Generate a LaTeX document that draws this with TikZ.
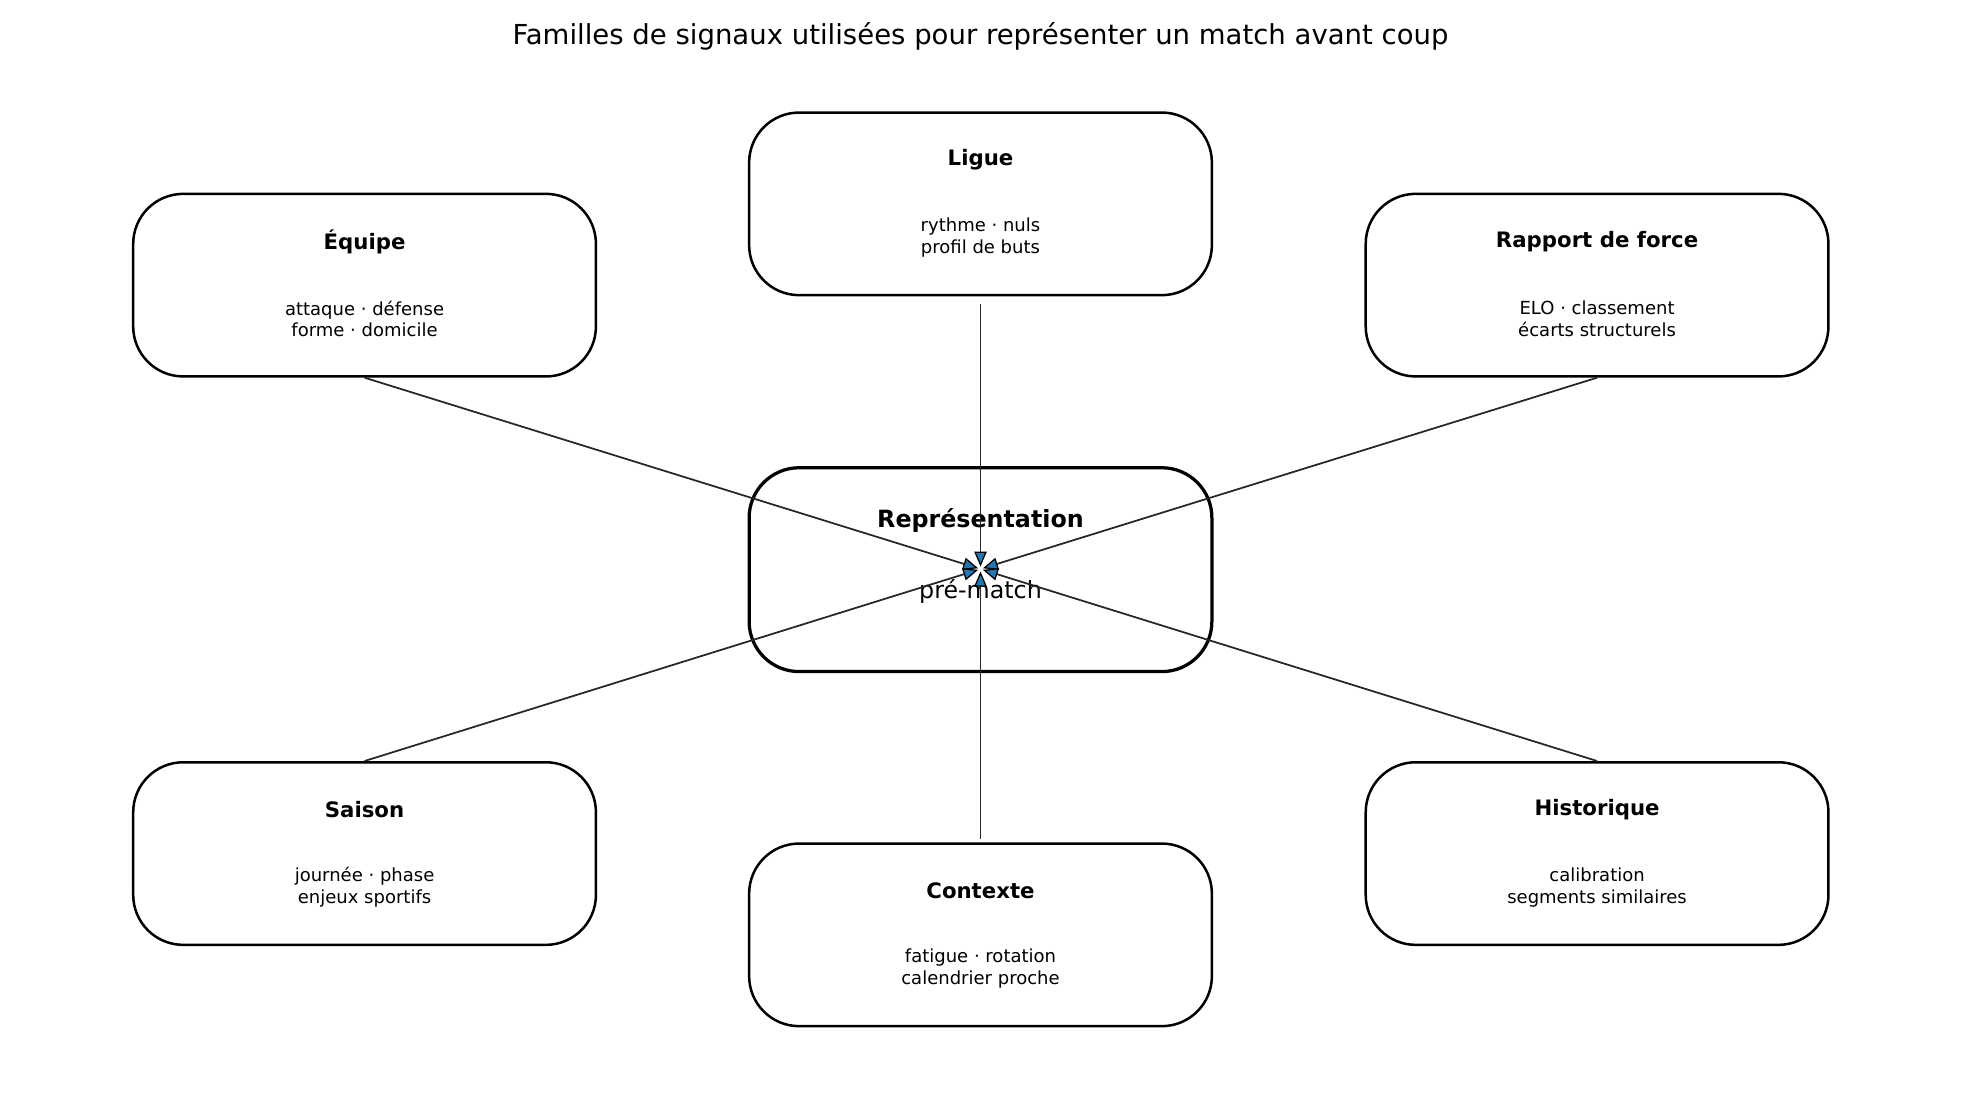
\documentclass[tikz,border=0pt]{standalone}
\usepackage{fontspec}
\setmainfont{DejaVu Sans}
\usetikzlibrary{arrows.meta}
\definecolor{tipblue}{HTML}{1F77B4}
\begin{document}
\begin{tikzpicture}[x=0.5pt,y=-0.5pt,
  box/.style={draw,line width=1pt,rounded corners=20pt,minimum width=185pt,minimum height=73pt,inner sep=0pt},
  hd/.style={font=\fontsize{8.5}{10}\selectfont\bfseries},
  bd/.style={font=\fontsize{7.2}{8.6}\selectfont,align=center},
  con/.style={draw=black!85,line width=0.7pt,shorten >=1pt,-{Triangle[length=6pt,width=5pt,fill=tipblue,color=black,line width=0.5pt]}}]
\useasboundingbox (0,0) rectangle (1568,877);
\node[font=\fontsize{11}{13}\selectfont] (title) at (784,29) {Familles de signaux utilisées pour représenter un match avant coup};
\coordinate (c) at (784,455);
\node[box,line width=1.3pt,minimum height=81.5pt] (cb) at (784,455.5) {};
\node[font=\fontsize{9.5}{11}\selectfont\bfseries] (ct) at (784,416) {Représentation};
\node[font=\fontsize{9.5}{11}\selectfont] (cs) at (784,473) {pré-match};
\foreach \n/\x/\y/\h/\a/\b in {
 eq/291.5/228/Équipe/attaque · défense/forme · domicile,
 li/784/163/Ligue/rythme · nuls/profil de buts,
 ra/1277/228/Rapport de force/ELO · classement/écarts structurels,
 sa/291.5/682.5/Saison/journée · phase/enjeux sportifs,
 co/784/747.5/Contexte/fatigue · rotation/calendrier proche,
 hi/1277/682.5/Historique/calibration/segments similaires}{
 \node[box] (\n) at (\x,\y) {};
 \node[hd] (\n h) at (\x,\y-35) {\h};
 \node[bd] (\n b) at (\x,\y+27) {\a\\\b};
}
\draw[con] (eq.south) -- (c);
\draw[con] ([yshift=-3pt]li.south) -- (c);
\draw[con] (ra.south) -- (c);
\draw[con] (sa.north) -- (c);
\draw[con] ([yshift=1.5pt]co.north) -- (c);
\draw[con] (hi.north) -- (c);
\end{tikzpicture}
\end{document}
